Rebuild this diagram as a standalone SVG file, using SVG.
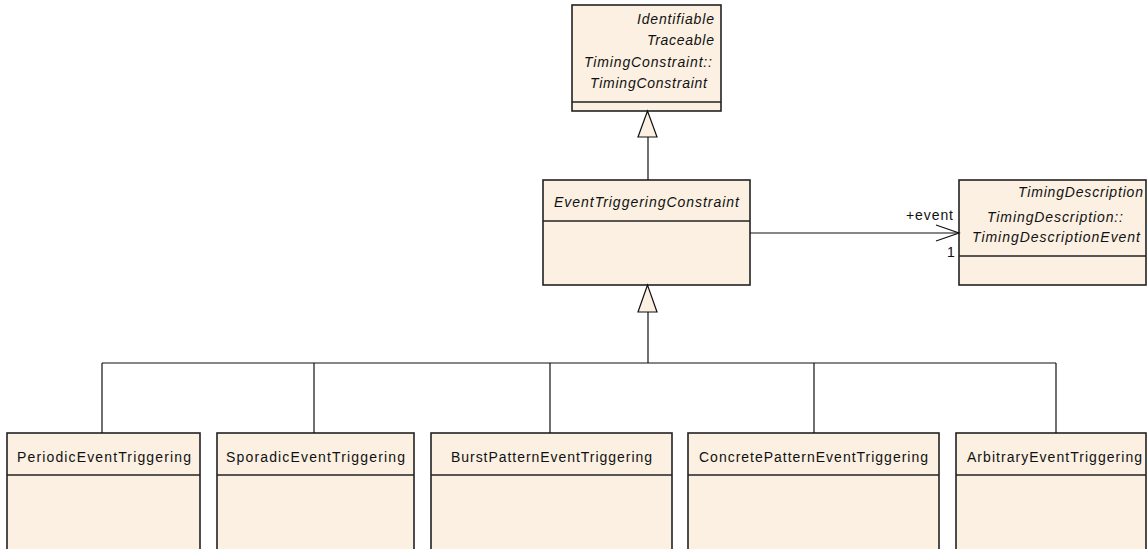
<svg xmlns="http://www.w3.org/2000/svg" width="1147" height="549" viewBox="0 0 1147 549">
<style>
.box{fill:#FBF0E2;stroke:#222;stroke-width:1.6}
.div{stroke:#222;stroke-width:1.4}
.ln{stroke:#111;stroke-width:1.2;fill:none}
.tri{fill:#FBF0E2;stroke:#111;stroke-width:1.2}
text{font-family:"Liberation Sans",Arial,sans-serif;font-size:14px;fill:#111}
.it{font-style:italic}
</style>
<rect width="1147" height="549" fill="#fff"/>
<g id="TimingConstraint">
<rect class="box" x="572" y="5" width="149" height="106"/>
<line class="div" x1="572" y1="102" x2="721" y2="102"/>
<text class="it" x="714" y="24" text-anchor="end" textLength="77" lengthAdjust="spacing">Identifiable</text>
<text class="it" x="714" y="45" text-anchor="end" textLength="67" lengthAdjust="spacing">Traceable</text>
<text class="it" x="584" y="67" textLength="128" lengthAdjust="spacing">TimingConstraint::</text>
<text class="it" x="590" y="88" textLength="117" lengthAdjust="spacing">TimingConstraint</text>
</g>
<g id="EventTriggeringConstraint">
<rect class="box" x="543" y="180" width="207" height="105"/>
<line class="div" x1="543" y1="221" x2="750" y2="221"/>
<text class="it" x="554" y="207" textLength="185" lengthAdjust="spacing">EventTriggeringConstraint</text>
</g>
<g id="TimingDescriptionEvent">
<rect class="box" x="959" y="180" width="187" height="105"/>
<line class="div" x1="959" y1="256" x2="1146" y2="256"/>
<text class="it" x="1143" y="197" text-anchor="end" textLength="125" lengthAdjust="spacing">TimingDescription</text>
<text class="it" x="987" y="222" textLength="136" lengthAdjust="spacing">TimingDescription::</text>
<text class="it" x="972" y="242" textLength="168" lengthAdjust="spacing">TimingDescriptionEvent</text>
</g>
<g id="PeriodicEventTriggering">
<rect class="box" x="7" y="433" width="193" height="130"/>
<line class="div" x1="7" y1="475" x2="200" y2="475"/>
<text x="17" y="462" textLength="174" lengthAdjust="spacing">PeriodicEventTriggering</text>
</g>
<g id="SporadicEventTriggering">
<rect class="box" x="217" y="433" width="197" height="130"/>
<line class="div" x1="217" y1="475" x2="414" y2="475"/>
<text x="226" y="462" textLength="179" lengthAdjust="spacing">SporadicEventTriggering</text>
</g>
<g id="BurstPatternEventTriggering">
<rect class="box" x="431" y="433" width="241" height="130"/>
<line class="div" x1="431" y1="475" x2="672" y2="475"/>
<text x="451" y="462" textLength="201" lengthAdjust="spacing">BurstPatternEventTriggering</text>
</g>
<g id="ConcretePatternEventTriggering">
<rect class="box" x="688" y="433" width="251" height="130"/>
<line class="div" x1="688" y1="475" x2="939" y2="475"/>
<text x="699" y="462" textLength="229" lengthAdjust="spacing">ConcretePatternEventTriggering</text>
</g>
<g id="ArbitraryEventTriggering">
<rect class="box" x="956" y="433" width="190" height="130"/>
<line class="div" x1="956" y1="475" x2="1146" y2="475"/>
<text x="967" y="462" textLength="175" lengthAdjust="spacing">ArbitraryEventTriggering</text>
</g>
<g id="connectors">
<line class="ln" x1="648" y1="137" x2="648" y2="180"/>
<polygon class="tri" points="647.5,111 638,137 657,137"/>
<polyline class="ln" points="648,312 648,363"/>
<polygon class="tri" points="647.5,285 638,312 657,312"/>
<line class="ln" x1="102" y1="363" x2="1056" y2="363"/>
<line class="ln" x1="102" y1="363" x2="102" y2="433"/>
<line class="ln" x1="314" y1="363" x2="314" y2="433"/>
<line class="ln" x1="550" y1="363" x2="550" y2="433"/>
<line class="ln" x1="814" y1="363" x2="814" y2="433"/>
<line class="ln" x1="1056" y1="363" x2="1056" y2="433"/>
<line class="ln" x1="750" y1="233" x2="959" y2="233"/>
<polyline class="ln" points="936,225 959,233 936,241"/>
<text x="953" y="220" text-anchor="end" textLength="47" lengthAdjust="spacing">+event</text>
<text x="947" y="257">1</text>
</g>
</svg>
